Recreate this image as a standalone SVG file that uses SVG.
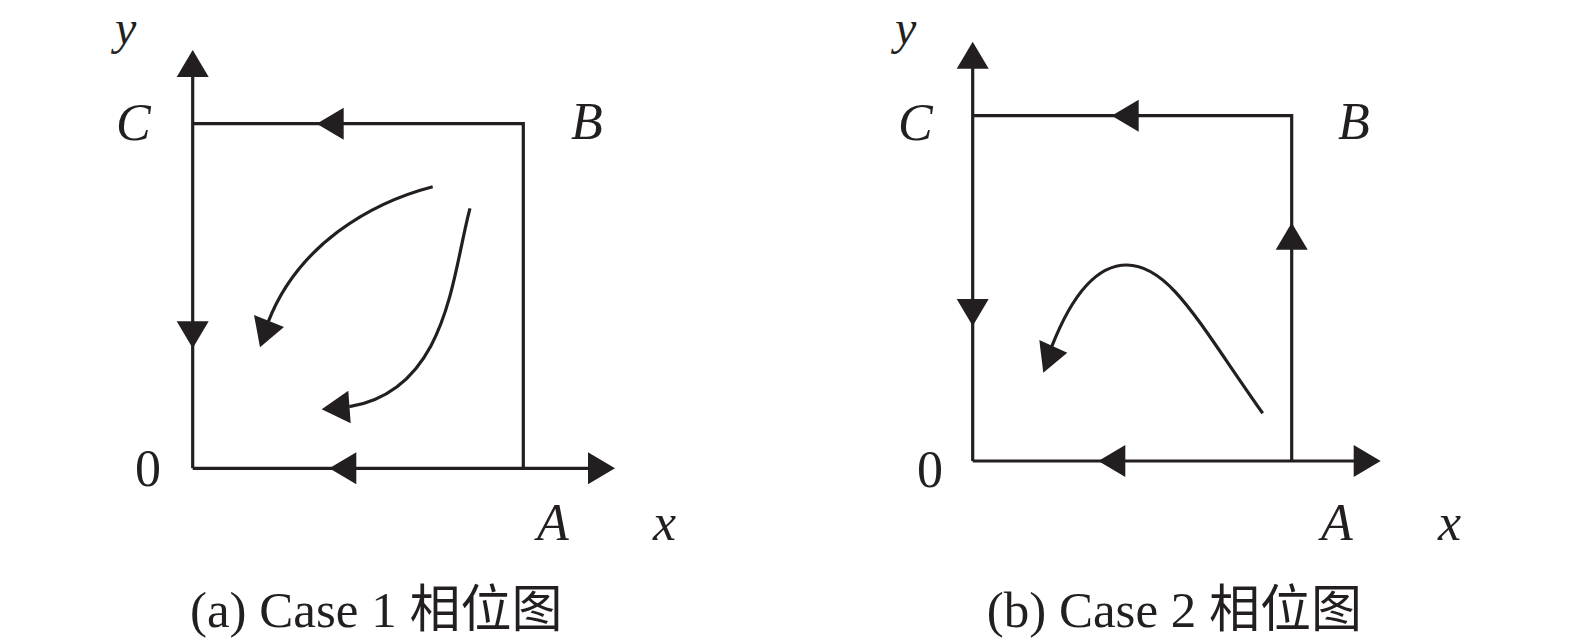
<svg xmlns="http://www.w3.org/2000/svg" width="1575" height="638" viewBox="0 0 1575 638">
<style>
.ln{fill:none;stroke:#231f20;stroke-width:3.2;stroke-linecap:butt;stroke-linejoin:miter}
.ah{fill:#231f20;stroke:none}
.it{font-family:"Liberation Serif","Times New Roman",serif;font-style:italic;font-size:52px;fill:#231f20}
.ity{font-family:"Liberation Serif","Times New Roman",serif;font-style:italic;font-size:48px;fill:#231f20}
.rm{font-family:"Liberation Serif","Times New Roman",serif;font-size:52px;fill:#231f20}
.cap{font-family:"Liberation Serif","Times New Roman","Noto Sans CJK SC",serif;font-size:51px;fill:#231f20}
</style>
<defs>
<polygon id="tri" points="0,0 -27,-16 -27,16"/>
</defs>
<rect width="1575" height="638" fill="#ffffff"/>

<g id="panel-a">
<g id="a-connectors">
<path class="ln" d="M192.7 468.3 V70"/>
<path class="ln" d="M192.7 123.7 H523.3 V468.3"/>
<path class="ln" d="M192.7 468.3 H600"/>
<path class="ln" d="M432.7 186.7 C370 203,298 245,268.3 321.7"/>
<path class="ln" d="M470 208.3 C452 275,448 390,349.3 406.7"/>
<use href="#tri" class="ah" transform="translate(192.7,50) rotate(-90)"/>
<use href="#tri" class="ah" transform="translate(316.7,123.7) rotate(180)"/>
<use href="#tri" class="ah" transform="translate(192.7,348.3) rotate(90)"/>
<use href="#tri" class="ah" transform="translate(329.3,468.3) rotate(180)"/>
<use href="#tri" class="ah" transform="translate(615,468.3)"/>
<polygon class="ah" points="260,347.3 254,315 284,327"/>
<polygon class="ah" points="321.7,409.3 348.3,390.7 350.7,423.3"/>
</g>
<g id="a-labels">
<text class="ity" x="115" y="44">y</text>
<text class="it" x="116" y="140">C</text>
<text class="it" x="571" y="139">B</text>
<text class="rm" x="135" y="486">0</text>
<text class="it" x="537" y="540">A</text>
<text class="it" x="653" y="540">x</text>
<text class="cap" x="190" y="627">(a) Case 1 相位图</text>
</g>
</g>

<g id="panel-b">
<g id="b-connectors">
<path class="ln" d="M972.7 461 V60"/>
<path class="ln" d="M972.7 115.7 H1291.7 V461"/>
<path class="ln" d="M972.7 461 H1365"/>
<path class="ln" d="M1262.7 413.3 C1200 325,1170 265,1126.7 265 C1095 265,1070 300,1051.7 346.7"/>
<use href="#tri" class="ah" transform="translate(972.7,41.7) rotate(-90)"/>
<use href="#tri" class="ah" transform="translate(1111.7,115.7) rotate(180)"/>
<use href="#tri" class="ah" transform="translate(972.7,326) rotate(90)"/>
<use href="#tri" class="ah" transform="translate(1291.7,222.7) rotate(-90)"/>
<use href="#tri" class="ah" transform="translate(1098.3,461) rotate(180)"/>
<use href="#tri" class="ah" transform="translate(1380.7,461)"/>
<polygon class="ah" points="1043.3,372.7 1039.3,340 1067.3,352.7"/>
</g>
<g id="b-labels">
<text class="ity" x="895" y="44">y</text>
<text class="it" x="898" y="140">C</text>
<text class="it" x="1338" y="139">B</text>
<text class="rm" x="917" y="486.5">0</text>
<text class="it" x="1321" y="540">A</text>
<text class="it" x="1438" y="540">x</text>
<text class="cap" x="986.7" y="627">(b) Case 2 相位图</text>
</g>
</g>
</svg>
